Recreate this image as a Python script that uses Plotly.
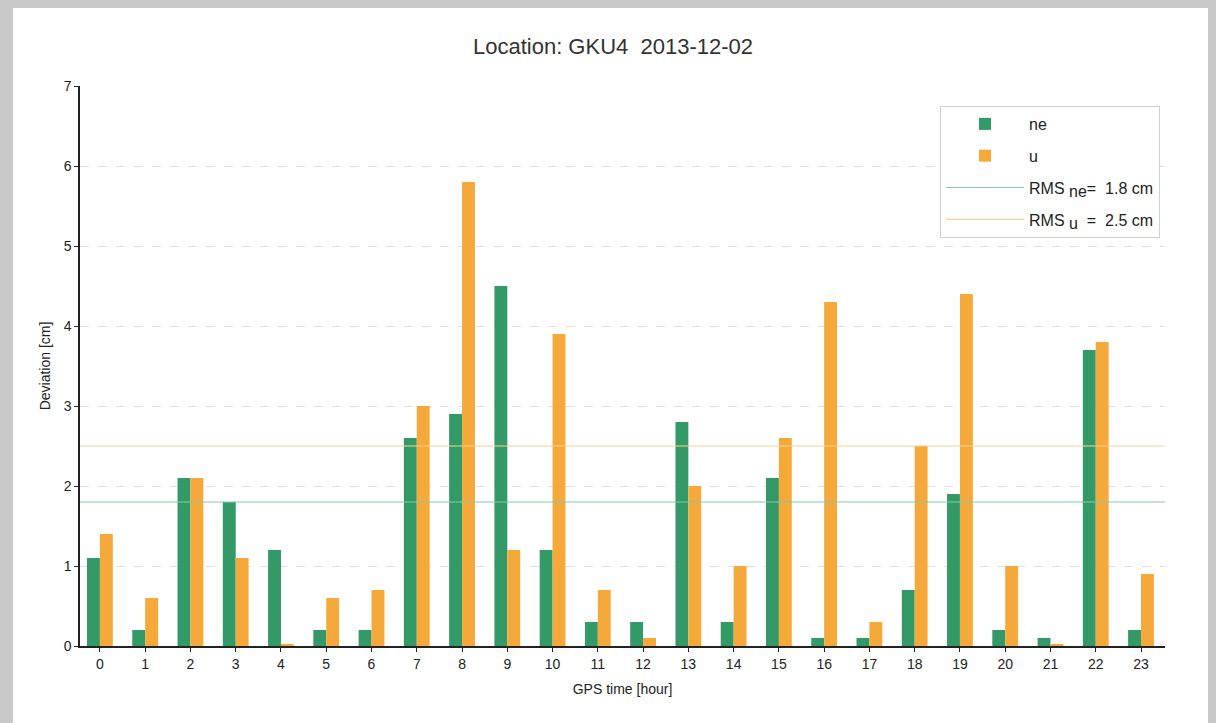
import plotly.graph_objects as go

hours = list(range(24))
ne_values = [1.1, 0.2, 2.1, 1.8, 1.2, 0.2, 0.2, 2.6, 2.9, 4.5, 1.2, 0.3,
             0.3, 2.8, 0.3, 2.1, 0.1, 0.1, 0.7, 1.9, 0.2, 0.1, 3.7, 0.2]
u_values = [1.4, 0.6, 2.1, 1.1, 0.02, 0.6, 0.7, 3.0, 5.8, 1.2, 3.9, 0.7,
            0.1, 2.0, 1.0, 2.6, 4.3, 0.3, 2.5, 4.4, 1.0, 0.02, 3.8, 0.9]
rms_ne = 1.8
rms_u = 2.5
title_text = "Location: GKU4  2013-12-02"

GREEN = "#339966"
ORANGE = "#f5a93a"
BG = "#c9c9c9"
FONT = "Liberation Sans, Arial, sans-serif"

x_range = [-0.44, 23.53]

fig = go.Figure()
fig.add_trace(go.Bar(x=hours, y=ne_values, name="ne", marker_color=GREEN,
                     marker_line_width=0, legendgroup="a"))
fig.add_trace(go.Bar(x=hours, y=u_values, name="u", marker_color=ORANGE,
                     marker_line_width=0, legendgroup="b"))
fig.add_trace(go.Scatter(x=x_range, y=[rms_ne, rms_ne], mode="lines",
                         line=dict(color="#86c9a8", width=1.2), legendgroup="c",
                         name=f"RMS <sub><span style='font-size:16px'>ne</span></sub>=  {rms_ne} cm"))
fig.add_trace(go.Scatter(x=x_range, y=[rms_u, rms_u], mode="lines",
                         line=dict(color="#f9cf92", width=1.2), legendgroup="d",
                         name=f"RMS <sub><span style='font-size:16px'>u</span></sub>  =  {rms_u} cm"))

# the page body adds an 8px offset; figure is sized so the plot lands where the reference has it
OFF = 8
W, H = 1216 - OFF, 723 - OFF
L, R, T, B = 80 - OFF, 51, 86 - OFF, 77
pw, ph = W - L - R, H - T - B

def px_to_paper_x(px):
    return (px - OFF - L) / pw

def px_to_paper_y(py):
    return (H - B - (py - OFF)) / ph

fig.add_shape(type="rect", xref="paper", yref="paper",
              x0=px_to_paper_x(13), x1=px_to_paper_x(1212),
              y0=px_to_paper_y(730), y1=px_to_paper_y(6),
              fillcolor="white", line_width=0, layer="below")

fig.update_layout(
    width=W, height=H,
    margin=dict(l=L, r=R, t=T, b=B),
    paper_bgcolor=BG,
    plot_bgcolor="rgba(0,0,0,0)",
    font=dict(family=FONT, color="#222", size=13),
    title=dict(text=title_text, x=(613 - OFF) / W, xref="container", xanchor="center",
               y=1 - (46 - OFF) / H, yref="container", yanchor="middle",
               font=dict(size=22, color="#333", family=FONT)),
    barmode="group", bargap=0.43, bargroupgap=0,
    legend=dict(x=px_to_paper_x(940), y=px_to_paper_y(106), xanchor="left",
                yanchor="top", bgcolor="white", bordercolor="#d0d0d0",
                borderwidth=1, font=dict(size=16, color="#222"),
                itemwidth=78, traceorder="grouped", tracegroupgap=8),
    xaxis=dict(range=x_range, tickmode="array", tickvals=hours,
               ticktext=[str(h) for h in hours], showgrid=False,
               showline=True, linecolor="#222", linewidth=1.5,
               ticks="outside", ticklen=4, tickcolor="#222",
               tickfont=dict(size=14), zeroline=False,
               title=dict(text="GPS time [hour]", font=dict(size=14), standoff=14)),
    yaxis=dict(range=[0, 7], dtick=1, showgrid=True, gridcolor="#e0e0e0",
               griddash="dash", gridwidth=1, showline=True, linecolor="#222",
               linewidth=1.5, ticks="outside", ticklen=4, tickcolor="#222",
               tickfont=dict(size=14), zeroline=False,
               title=dict(text="Deviation [cm]", font=dict(size=14), standoff=10)),
)

fig.write_html("out.html",
               post_script=f"document.body.style.background='{BG}';")
